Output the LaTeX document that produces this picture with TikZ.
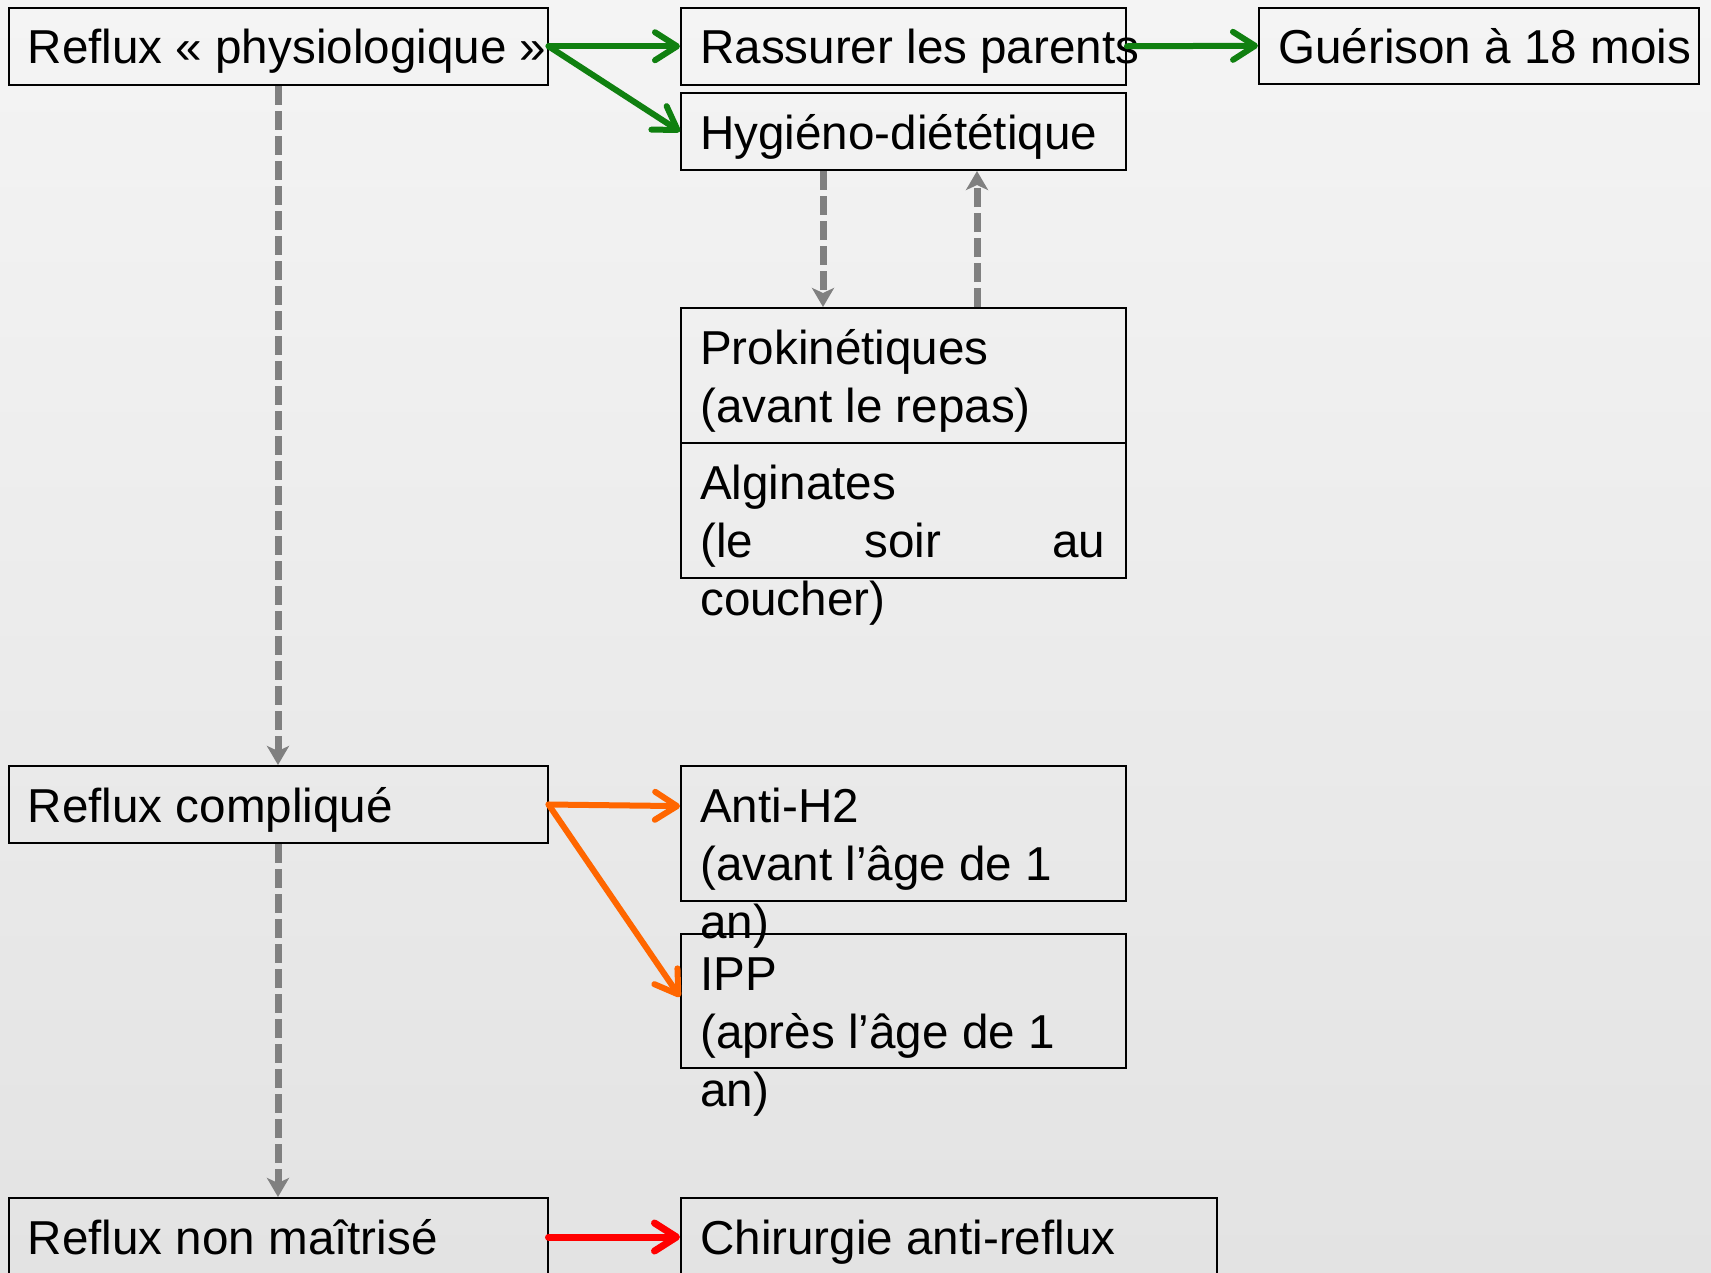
\documentclass[tikz,border=0pt]{standalone}
\usepackage{fontspec}
\setmainfont{Liberation Sans}
\usetikzlibrary{arrows.meta,calc}
\definecolor{bgtop}{RGB}{244,244,244}
\definecolor{bgbot}{RGB}{227,227,227}
\definecolor{gline}{RGB}{16,128,16}
\definecolor{oline}{RGB}{255,102,0}
\definecolor{rline}{RGB}{255,0,0}
\definecolor{dline}{RGB}{128,128,128}
\begin{document}
\begin{tikzpicture}[x=1pt,y=-1pt,
  box/.style={draw=black, line width=2pt, inner sep=0pt, anchor=north west},
  txt/.style={anchor=base west, inner sep=0pt, align=left, font=\fontsize{47.6}{58}\selectfont},
  barb/.style={line width=6pt, -{Straight Barb[length=22pt,width=28pt,line cap=round,line join=round]}, line cap=round},
  garrow/.style={barb, draw=gline},
  oarrow/.style={barb, draw=oline},
  rarrow/.style={barb, draw=rline, line width=7pt},
  darrow/.style={draw=dline, line width=7pt, dash pattern=on 19pt off 6pt, -{Stealth[length=19pt,width=22pt,inset=5pt]}}]
\useasboundingbox (0,0) rectangle (1711,1272);
\fill[top color=bgtop, bottom color=bgbot] (0,0) rectangle (1711,1272);

% boxes
\node[box, minimum width=539pt, minimum height=77.5pt] (phys) at (7.5,6.5) {};
\node[box, minimum width=445pt, minimum height=77.5pt] (rass) at (680,6.5) {};
\node[box, minimum width=440pt, minimum height=76.5pt] (gue) at (1258,6.5) {};
\node[box, minimum width=445pt, minimum height=77pt] (hyg) at (680,92) {};
\node[box, minimum width=445pt, minimum height=135pt] (prok) at (680,307) {};
\node[box, minimum width=445pt, minimum height=135pt] (alg) at (680,442) {};
\node[box, minimum width=539pt, minimum height=77pt] (comp) at (7.5,765) {};
\node[box, minimum width=445pt, minimum height=135pt] (ah2) at (680,765) {};
\node[box, minimum width=445pt, minimum height=134pt] (ipp) at (680,933) {};
\node[box, minimum width=539pt, minimum height=78pt] (nonm) at (7.5,1197) {};
\node[box, minimum width=536pt, minimum height=78pt] (chir) at (680,1197) {};

% texts
\node[txt] (tphys) at ([xshift=20pt,yshift=-57pt]phys.north west) {Reflux «~physiologique~»};
\node[txt] (trass) at ([xshift=20pt,yshift=-57pt]rass.north west) {Rassurer les parents};
\node[txt] (tgue) at ([xshift=20pt,yshift=-57pt]gue.north west) {Guérison à 18 mois};
\node[txt] (thyg) at ([xshift=20pt,yshift=-57pt]hyg.north west) {Hygiéno-diététique};
\node[txt] (tprok) at ([xshift=20pt,yshift=-57pt]prok.north west) {\begin{tabular}[t]{@{}l@{}}Prokinétiques\\(avant le repas)\end{tabular}};
\node[txt] (talg) at ([xshift=20pt,yshift=-57pt]alg.north west) {\begin{tabular}[t]{@{}l@{}}Alginates\\\hbox to 405pt{(le\hfill soir\hfill au}\\coucher)\end{tabular}};
\node[txt] (tcomp) at ([xshift=20pt,yshift=-57pt]comp.north west) {Reflux compliqué};
\node[txt] (tah2) at ([xshift=20pt,yshift=-57pt]ah2.north west) {\begin{tabular}[t]{@{}l@{}}Anti-H2\\(avant l’âge de 1\\an)\end{tabular}};
\node[txt] (tipp) at ([xshift=20pt,yshift=-57pt]ipp.north west) {\begin{tabular}[t]{@{}l@{}}IPP\\(après l’âge de 1\\an)\end{tabular}};
\node[txt] (tnonm) at ([xshift=20pt,yshift=-57pt]nonm.north west) {Reflux non maîtrisé};
\node[txt] (tchir) at ([xshift=20pt,yshift=-57pt]chir.north west) {Chirurgie anti-reflux};

% connectors
\draw[garrow] (phys.east) -- (rass.west);
\draw[garrow] (phys.east) -- ($(hyg.north west)!0.5!(hyg.south west)$);
\draw[garrow] (rass.east) -- (gue.west);
\draw[darrow] (phys.south) -- (comp.north);
\draw[darrow] (comp.south) -- (nonm.north);
\draw[darrow] ([xshift=143pt]hyg.south west) -- ([xshift=143pt]prok.north west);
\draw[darrow] ([xshift=297pt]prok.north west) -- ([xshift=297pt]hyg.south west);
\draw[oarrow] (comp.east) -- ($(ah2.north west)!0.3!(ah2.south west)$);
\draw[oarrow] (comp.east) -- ($(ipp.north west)!0.47!(ipp.south west)$);
\draw[rarrow] (nonm.east) -- ($(chir.north west)!0.5!(chir.south west)$);
\end{tikzpicture}
\end{document}
